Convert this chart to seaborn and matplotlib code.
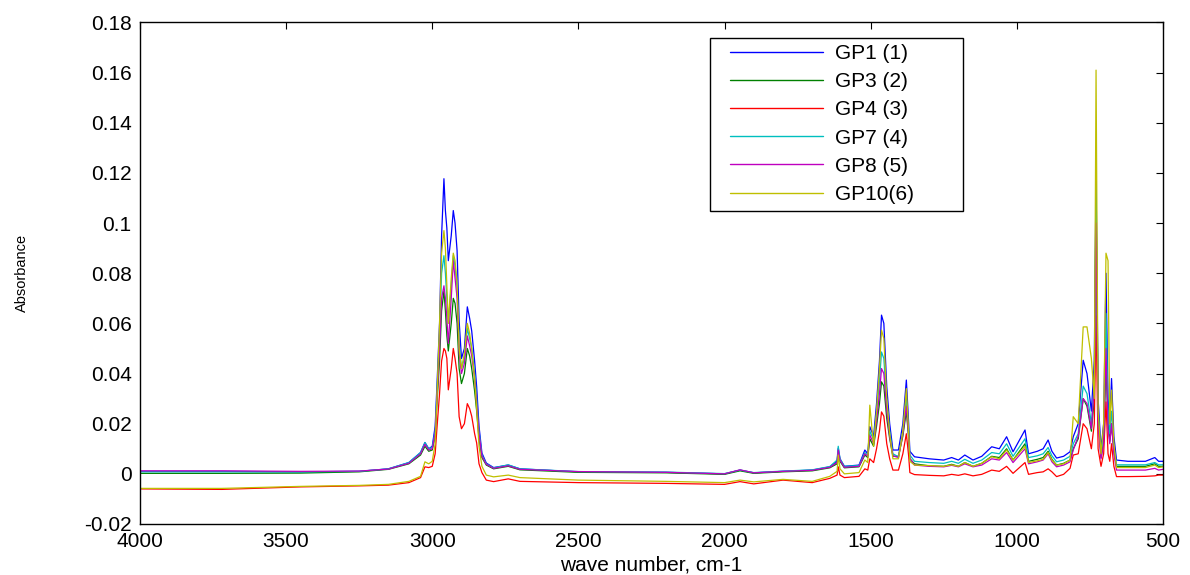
import numpy as np
import pandas as pd
import matplotlib
matplotlib.use("Agg")
import matplotlib.pyplot as plt
from matplotlib.patches import Rectangle
import seaborn as sns

# Wavenumber grid (cm-1), shared by all spectra
wavenumber = [
    4000, 3720, 3450, 3250, 3150, 3080, 3040, 3025, 3012, 3000,
    2990, 2984, 2975, 2968, 2960, 2955, 2950, 2945, 2935, 2928,
    2922, 2915, 2908, 2900, 2890, 2880, 2872, 2865, 2855, 2848,
    2840, 2830, 2815, 2790, 2740, 2700, 2500, 2200, 2000, 1947,
    1900, 1800, 1700, 1640, 1615, 1611, 1605, 1590, 1540, 1520,
    1510, 1503, 1490, 1480, 1470, 1463, 1455, 1445, 1435, 1424,
    1405, 1390, 1378, 1370, 1366, 1350, 1300, 1250, 1223, 1200,
    1178, 1150, 1120, 1086, 1060, 1035, 1013, 972, 960, 930,
    910, 893, 880, 864, 840, 818, 807, 790, 773, 760,
    745, 735, 729, 722, 712, 703, 695, 688, 682, 676,
    668, 659, 620, 560, 528, 515, 500,
]

gp1 = [
    0.0010, 0.0010, 0.0008, 0.0010, 0.0020, 0.0045, 0.0085, 0.0125, 0.0100, 0.0110,
    0.0190, 0.0350, 0.0600, 0.0950, 0.1177, 0.1050, 0.0980, 0.0850, 0.0950, 0.1050,
    0.1000, 0.0890, 0.0610, 0.0460, 0.0500, 0.0666, 0.0620, 0.0570, 0.0450, 0.0347,
    0.0190, 0.0083, 0.0043, 0.0025, 0.0035, 0.0020, 0.0008, 0.0006, 0.0000, 0.0015,
    0.0004, 0.0010, 0.0015, 0.0028, 0.0050, 0.0102, 0.0060, 0.0030, 0.0035, 0.0095,
    0.0080, 0.0188, 0.0150, 0.0280, 0.0450, 0.0633, 0.0600, 0.0347, 0.0200, 0.0095,
    0.0095, 0.0200, 0.0374, 0.0200, 0.0090, 0.0068, 0.0060, 0.0055, 0.0065, 0.0055,
    0.0075, 0.0055, 0.0070, 0.0108, 0.0100, 0.0148, 0.0088, 0.0175, 0.0080, 0.0090,
    0.0100, 0.0135, 0.0090, 0.0063, 0.0070, 0.0088, 0.0148, 0.0200, 0.0453, 0.0400,
    0.0250, 0.0450, 0.1200, 0.0300, 0.0100, 0.0200, 0.0800, 0.0300, 0.0200, 0.0380,
    0.0150, 0.0055, 0.0050, 0.0050, 0.0065, 0.0050, 0.0050,
]

gp3 = [
    0.0002, 0.0002, 0.0003, 0.0008, 0.0018, 0.0040, 0.0075, 0.0110, 0.0090, 0.0095,
    0.0150, 0.0280, 0.0450, 0.0650, 0.0730, 0.0650, 0.0550, 0.0490, 0.0600, 0.0700,
    0.0680, 0.0600, 0.0420, 0.0360, 0.0400, 0.0500, 0.0470, 0.0420, 0.0330, 0.0250,
    0.0140, 0.0065, 0.0035, 0.0020, 0.0030, 0.0016, 0.0006, 0.0004, -0.0002, 0.0012,
    0.0002, 0.0008, 0.0012, 0.0024, 0.0040, 0.0085, 0.0050, 0.0024, 0.0028, 0.0075,
    0.0065, 0.0140, 0.0110, 0.0190, 0.0280, 0.0367, 0.0350, 0.0220, 0.0140, 0.0070,
    0.0070, 0.0150, 0.0250, 0.0140, 0.0060, 0.0040, 0.0032, 0.0030, 0.0038, 0.0030,
    0.0045, 0.0030, 0.0042, 0.0070, 0.0065, 0.0100, 0.0055, 0.0120, 0.0050, 0.0058,
    0.0065, 0.0090, 0.0058, 0.0035, 0.0042, 0.0055, 0.0100, 0.0140, 0.0300, 0.0270,
    0.0170, 0.0300, 0.1100, 0.0220, 0.0065, 0.0130, 0.0440, 0.0200, 0.0130, 0.0200,
    0.0090, 0.0030, 0.0030, 0.0030, 0.0040, 0.0030, 0.0030,
]

gp4 = [
    -0.0060, -0.0062, -0.0052, -0.0048, -0.0045, -0.0035, -0.0015, 0.0028, 0.0025, 0.0030,
    0.0080, 0.0180, 0.0320, 0.0450, 0.0500, 0.0490, 0.0460, 0.0335, 0.0420, 0.0500,
    0.0460, 0.0400, 0.0228, 0.0180, 0.0200, 0.0280, 0.0260, 0.0230, 0.0160, 0.0123,
    0.0040, 0.0005, -0.0025, -0.0031, -0.0020, -0.0030, -0.0035, -0.0038, -0.0042, -0.0031,
    -0.0040, -0.0025, -0.0035, -0.0018, -0.0005, 0.0028, -0.0005, -0.0015, -0.0010, 0.0020,
    0.0015, 0.0060, 0.0045, 0.0100, 0.0170, 0.0247, 0.0230, 0.0120, 0.0060, 0.0015,
    0.0015, 0.0080, 0.0160, 0.0070, 0.0005, -0.0003, -0.0006, -0.0008, -0.0002, -0.0006,
    0.0000, -0.0008, -0.0002, 0.0015, 0.0010, 0.0030, 0.0002, 0.0045, -0.0002, 0.0005,
    0.0008, 0.0020, 0.0008, -0.0011, -0.0002, 0.0022, 0.0075, 0.0080, 0.0200, 0.0180,
    0.0100, 0.0200, 0.0630, 0.0100, 0.0030, 0.0080, 0.0287, 0.0080, 0.0050, 0.0120,
    0.0030, -0.0011, -0.0011, -0.0010, -0.0008, -0.0005, -0.0005,
]

gp7 = [
    0.0008, 0.0008, 0.0008, 0.0010, 0.0020, 0.0045, 0.0085, 0.0125, 0.0100, 0.0105,
    0.0170, 0.0320, 0.0550, 0.0800, 0.0870, 0.0800, 0.0700, 0.0600, 0.0750, 0.0870,
    0.0830, 0.0740, 0.0520, 0.0420, 0.0460, 0.0580, 0.0540, 0.0500, 0.0400, 0.0300,
    0.0170, 0.0075, 0.0040, 0.0024, 0.0036, 0.0020, 0.0009, 0.0007, 0.0001, 0.0015,
    0.0005, 0.0011, 0.0016, 0.0029, 0.0055, 0.0110, 0.0060, 0.0030, 0.0033, 0.0085,
    0.0075, 0.0170, 0.0135, 0.0240, 0.0370, 0.0486, 0.0460, 0.0280, 0.0170, 0.0080,
    0.0068, 0.0170, 0.0300, 0.0170, 0.0075, 0.0050, 0.0045, 0.0042, 0.0050, 0.0042,
    0.0058, 0.0042, 0.0055, 0.0085, 0.0080, 0.0120, 0.0070, 0.0140, 0.0065, 0.0072,
    0.0080, 0.0105, 0.0072, 0.0048, 0.0055, 0.0070, 0.0120, 0.0160, 0.0350, 0.0320,
    0.0200, 0.0360, 0.1150, 0.0250, 0.0080, 0.0160, 0.0640, 0.0250, 0.0160, 0.0250,
    0.0110, 0.0036, 0.0036, 0.0036, 0.0045, 0.0036, 0.0036,
]

gp8 = [
    0.0012, 0.0012, 0.0010, 0.0011, 0.0019, 0.0042, 0.0080, 0.0118, 0.0095, 0.0100,
    0.0160, 0.0300, 0.0500, 0.0700, 0.0750, 0.0700, 0.0620, 0.0520, 0.0700, 0.0850,
    0.0780, 0.0700, 0.0480, 0.0400, 0.0440, 0.0550, 0.0510, 0.0470, 0.0380, 0.0280,
    0.0160, 0.0070, 0.0038, 0.0022, 0.0032, 0.0018, 0.0009, 0.0006, 0.0000, 0.0016,
    0.0004, 0.0010, 0.0014, 0.0026, 0.0045, 0.0095, 0.0055, 0.0026, 0.0030, 0.0080,
    0.0070, 0.0155, 0.0120, 0.0210, 0.0320, 0.0420, 0.0400, 0.0250, 0.0150, 0.0072,
    0.0065, 0.0160, 0.0270, 0.0150, 0.0062, 0.0035, 0.0030, 0.0028, 0.0034, 0.0028,
    0.0040, 0.0028, 0.0035, 0.0060, 0.0055, 0.0085, 0.0045, 0.0100, 0.0040, 0.0048,
    0.0055, 0.0080, 0.0048, 0.0028, 0.0035, 0.0048, 0.0095, 0.0150, 0.0300, 0.0280,
    0.0180, 0.0350, 0.1000, 0.0200, 0.0060, 0.0120, 0.0500, 0.0180, 0.0120, 0.0200,
    0.0080, 0.0015, 0.0015, 0.0015, 0.0022, 0.0015, 0.0018,
]

gp10 = [
    -0.0058, -0.0058, -0.0050, -0.0046, -0.0042, -0.0030, -0.0010, 0.0048, 0.0040, 0.0050,
    0.0120, 0.0300, 0.0600, 0.0880, 0.0970, 0.0900, 0.0750, 0.0600, 0.0780, 0.0880,
    0.0850, 0.0760, 0.0500, 0.0420, 0.0480, 0.0600, 0.0560, 0.0500, 0.0380, 0.0260,
    0.0110, 0.0030, -0.0005, -0.0012, -0.0005, -0.0015, -0.0025, -0.0030, -0.0035, -0.0025,
    -0.0032, -0.0022, -0.0030, -0.0010, 0.0010, 0.0075, 0.0020, 0.0000, 0.0005, 0.0055,
    0.0045, 0.0274, 0.0110, 0.0250, 0.0420, 0.0573, 0.0540, 0.0300, 0.0160, 0.0060,
    0.0060, 0.0170, 0.0340, 0.0160, 0.0050, 0.0035, 0.0033, 0.0030, 0.0036, 0.0030,
    0.0045, 0.0030, 0.0042, 0.0068, 0.0060, 0.0095, 0.0055, 0.0110, 0.0045, 0.0052,
    0.0058, 0.0085, 0.0055, 0.0035, 0.0040, 0.0055, 0.0228, 0.0200, 0.0586, 0.0586,
    0.0460, 0.0300, 0.1610, 0.0250, 0.0080, 0.0200, 0.0880, 0.0850, 0.0200, 0.0334,
    0.0120, 0.0025, 0.0025, 0.0025, 0.0035, 0.0025, 0.0028,
]

series_labels = ["GP1 (1)", "GP3 (2)", "GP4 (3)", "GP7 (4)", "GP8 (5)", "GP10(6)"]
series_values = [gp1, gp3, gp4, gp7, gp8, gp10]
series_colors = ["#0000FF", "#008000", "#FF0000", "#00BFBF", "#BF00BF", "#BFBF00"]

x_ticks = [4000, 3500, 3000, 2500, 2000, 1500, 1000, 500]
y_ticks = [-0.02, 0, 0.02, 0.04, 0.06, 0.08, 0.1, 0.12, 0.14, 0.16, 0.18]
y_tick_labels = ["-0.02", "0", "0.02", "0.04", "0.06", "0.08", "0.1",
                 "0.12", "0.14", "0.16", "0.18"]

frames = []
for label, vals in zip(series_labels, series_values):
    frames.append(pd.DataFrame({"wn": wavenumber, "absorbance": vals, "sample": label}))
df = pd.concat(frames, ignore_index=True)

sns.set_style("white")
plt.rcParams["font.family"] = ["Liberation Sans", "DejaVu Sans"]
plt.rcParams["text.color"] = "black"
plt.rcParams["axes.labelcolor"] = "black"

fig = plt.figure(figsize=(11.9, 5.75), dpi=100)
ax = fig.add_axes([0.1176, 0.0887, 0.8597, 0.8722])

sns.lineplot(data=df, x="wn", y="absorbance", hue="sample",
             hue_order=series_labels, palette=series_colors,
             sort=False, estimator=None, linewidth=0.9, ax=ax)

ax.set_xlim(4000, 500)
ax.set_ylim(-0.02, 0.18)
ax.set_xticks(x_ticks)
ax.set_xticklabels([str(t) for t in x_ticks])
ax.set_yticks(y_ticks)
ax.set_yticklabels(y_tick_labels)

ax.tick_params(axis="both", direction="in", length=5, width=0.8,
               top=True, right=True, labelsize=15, colors="black", pad=6)
for sp in ax.spines.values():
    sp.set_visible(True)
    sp.set_color("black")
    sp.set_linewidth(1.0)

ax.set_xlabel("wave number, cm-1", fontsize=15, labelpad=3, color="black")
ax.set_ylabel("Absorbance", fontsize=10.5, color="black")
ax.yaxis.set_label_coords(-0.108, 0.5)

# Legend box drawn as its own rectangle, entries placed inside it
box = Rectangle((0.5572, 0.6241), 0.2473, 0.3450, transform=ax.transAxes,
                facecolor="white", edgecolor="black", linewidth=1.0, zorder=4)
ax.add_patch(box)

handles, labels = ax.get_legend_handles_labels()
leg = ax.legend(handles, labels, loc="upper left", bbox_to_anchor=(0.5767, 0.957),
                frameon=False, fontsize=15, handlelength=4.47,
                handletextpad=0.58, labelspacing=0.44,
                borderpad=0, borderaxespad=0, labelcolor="black")
leg.set_zorder(5)
for line in leg.get_lines():
    line.set_linewidth(1.0)

fig.savefig("out.png", dpi=100, facecolor="white")
